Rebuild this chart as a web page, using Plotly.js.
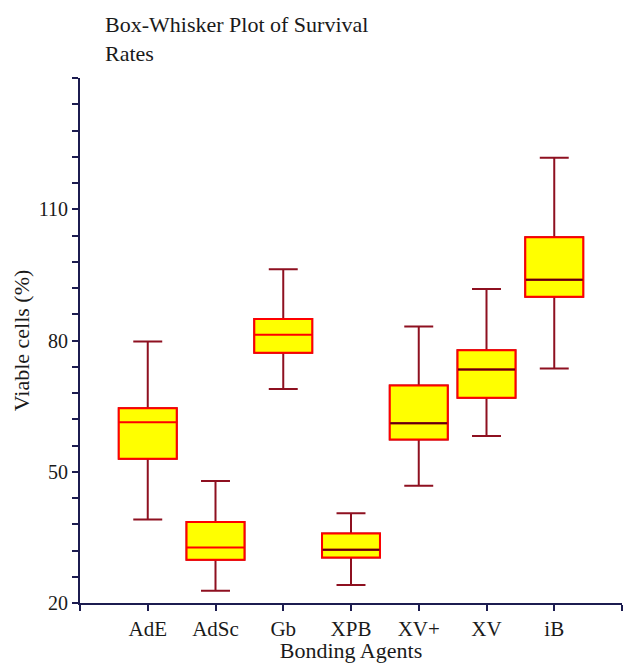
<!DOCTYPE html>
<html>
<head>
<meta charset="utf-8">
<script src="https://cdn.plot.ly/plotly-3.0.1.min.js"></script>
<style>html,body{margin:0;padding:0;background:#fff;}#chart{width:624px;height:663px;}</style>
</head>
<body>
<div id="chart"></div>
<script>
// Data
const categories = ['AdE', 'AdSc', 'Gb', 'XPB', 'XV+', 'XV', 'iB'];
const lowerWhisker = [39.1, 22.8, 68.9, 24.1, 46.8, 58.2, 73.6];
const q1Values     = [53.0, 29.9, 77.2, 30.4, 57.4, 66.9, 90.0];
const medianValues = [61.3, 32.7, 81.3, 32.2, 61.1, 73.4, 93.9];
const q3Values     = [64.5, 38.5, 84.9, 35.9, 69.7, 77.8, 103.6];
const upperWhisker = [79.8, 47.9, 96.3, 40.5, 83.2, 91.8, 121.8];
const yTickVals = [20, 50, 80, 110];

const positions = categories.map((c, i) => i);
const darkMedianIdx = [3, 4, 5, 6];

const serif = 'Liberation Serif, Times New Roman, serif';
const axisColor = '#1c1c50';
const whiskerColor = '#8e1020';

const whiskers = {
  type: 'box', x: positions,
  q1: q1Values, median: medianValues, q3: q3Values,
  lowerfence: lowerWhisker, upperfence: upperWhisker,
  width: 0.855, whiskerwidth: 0.5,
  fillcolor: '#ffff00', line: {color: whiskerColor, width: 2},
  boxpoints: false, hoverinfo: 'skip', showlegend: false
};
const boxes = {
  type: 'box', x: positions,
  q1: q1Values, median: medianValues, q3: q3Values,
  lowerfence: q1Values, upperfence: q3Values,
  width: 0.855, whiskerwidth: 0,
  fillcolor: '#ffff00', line: {color: '#ff0000', width: 2},
  boxpoints: false, hoverinfo: 'skip', showlegend: false
};
const dm = darkMedianIdx.map(i => medianValues[i]);
const darkMedians = {
  type: 'box', x: darkMedianIdx.map(i => positions[i]),
  q1: dm, median: dm, q3: dm, lowerfence: dm, upperfence: dm,
  width: 0.84, whiskerwidth: 0,
  fillcolor: '#5a0010', line: {color: '#5a0010', width: 2},
  boxpoints: false, hoverinfo: 'skip', showlegend: false
};

const layout = {
  width: 624, height: 663,
  margin: {l: 80, r: 2, t: 78, b: 60},
  paper_bgcolor: '#ffffff', plot_bgcolor: '#ffffff',
  font: {family: serif, color: '#1a1a1a', size: 20},
  showlegend: false,
  title: {
    text: 'Box-Whisker Plot of Survival<br>Rates',
    font: {family: serif, size: 22, color: '#1a1a1a'},
    x: 105 / 624, xanchor: 'left', xref: 'container',
    y: 0.951, yanchor: 'top', yref: 'container'
  },
  xaxis: {
    range: [-1, 7],
    tickmode: 'array',
    tickvals: [-1].concat(positions, [7]),
    ticktext: [''].concat(categories, ['']),
    ticks: 'outside', ticklen: 6, tickwidth: 2, tickcolor: axisColor,
    showline: true, linecolor: axisColor, linewidth: 2,
    showgrid: false, zeroline: false,
    tickfont: {family: serif, size: 21, color: '#1a1a1a'},
    title: {text: 'Bonding Agents', font: {family: serif, size: 22, color: '#1a1a1a'}, standoff: 0}
  },
  yaxis: {
    range: [20, 140],
    tickmode: 'array', tickvals: yTickVals,
    ticks: 'outside', ticklen: 6, tickwidth: 2, tickcolor: axisColor,
    minor: {dtick: 6, tick0: 20, ticks: 'outside', ticklen: 6, tickwidth: 2, tickcolor: axisColor, showgrid: false},
    showline: true, linecolor: axisColor, linewidth: 2,
    showgrid: false, zeroline: false,
    tickfont: {family: serif, size: 20, color: '#1a1a1a'},
    title: {text: 'Viable cells (%)', font: {family: serif, size: 22, color: '#1a1a1a'}, standoff: 3}
  },
  boxgap: 0, boxmode: 'overlay'
};

Plotly.newPlot('chart', [whiskers, boxes, darkMedians], layout, {displayModeBar: false, staticPlot: true});
</script>
</body>
</html>
